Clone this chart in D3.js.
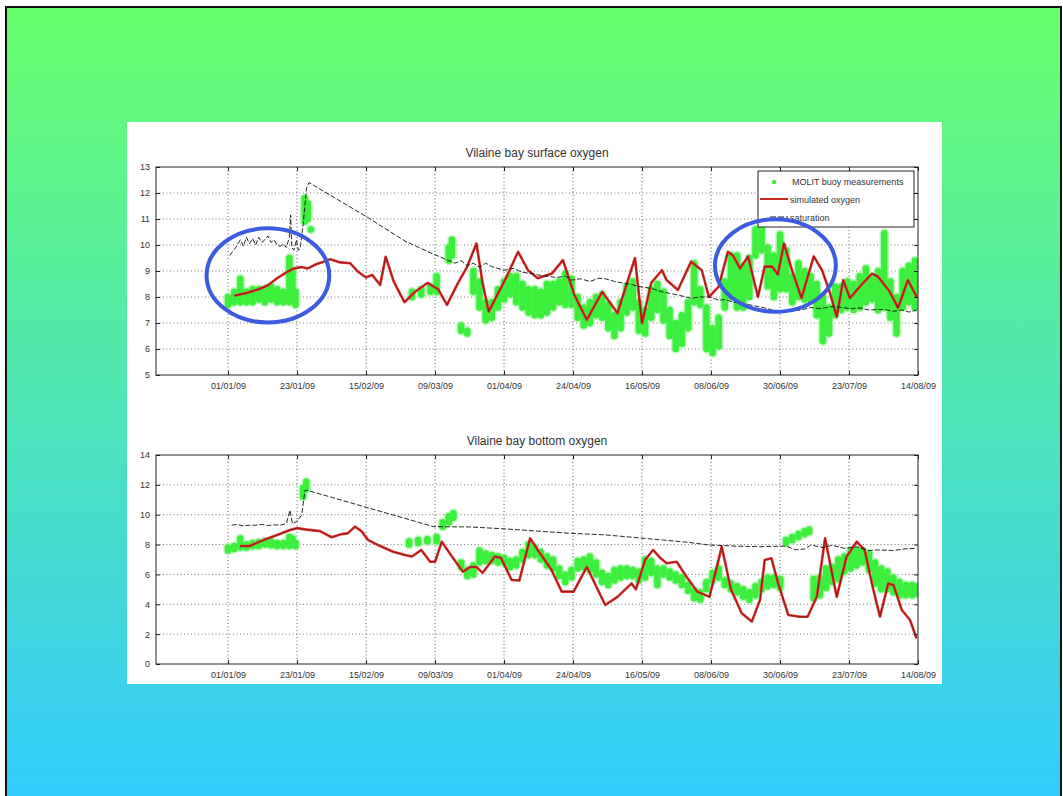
<!DOCTYPE html>
<html>
<head>
<meta charset="utf-8">
<script src="https://cdn.jsdelivr.net/npm/d3@7"></script>
<style>
  body { margin: 0; background: #fff; }
  text { font-family: "Liberation Sans", Arial, sans-serif; }
</style>
</head>
<body>
<div id="chart"></div>
<script>
// x values are days counted from 01/01/09
var tickDays = [0, 22.5, 45, 67.5, 90, 112.5, 135, 157.5, 180, 202.5, 225];
var tickLabels = ["01/01/09", "23/01/09", "15/02/09", "09/03/09", "01/04/09", "24/04/09",
                  "16/05/09", "08/06/09", "30/06/09", "23/07/09", "14/08/09"];
var legendLabels = ["MOLIT buoy measurements", "simulated oxygen", "saturation"];

// ---- surface ----
var redTopDays = [2, 6, 10, 13, 16, 19, 21.5, 24, 26, 28.9, 31, 33.3, 36.6, 39.8, 42.4, 45, 47, 49.6, 51.4, 54, 57.5,
  61, 65, 68.5, 71.4, 75, 78, 81, 83, 85, 87.7, 90.3, 94.6, 97.8, 101, 105.6, 109.2, 113, 117, 122, 127, 132.7, 135,
  138, 141.5, 143, 146.7, 151, 154.5, 156.8, 160, 163, 164.6, 167, 169.6, 172.8, 175, 177.4, 179.3, 181.3, 183.9, 187,
  191, 193.7, 196, 198.5, 200.6, 202.8, 206, 210, 212, 215.8, 218.5, 221.7, 224.6];
var redTopVals = [8.05, 8.15, 8.3, 8.45, 8.72, 8.95, 9.1, 9.15, 9.1, 9.27, 9.35, 9.45, 9.33, 9.3, 8.97, 8.75, 8.85, 8.46, 9.55, 8.6, 7.8,
  8.2, 8.54, 8.3, 7.7, 8.54, 9.17, 10.06, 8.54, 7.44, 8.06, 8.65, 9.74, 9.03, 8.72, 8.9, 9.42, 8.06, 7.12, 8.2, 7.38, 9.5, 7.0,
  8.54, 9.03, 8.65, 8.27, 9.36, 9.03, 8.0, 8.4, 9.74, 9.6, 9.1, 9.56, 8.0, 9.17, 9.17, 8.87, 10.06, 9.03, 7.96,
  9.56, 9.03, 8.27, 7.24, 8.65, 7.96, 8.4, 8.9, 8.78, 8.2, 7.58, 8.65, 8.0];

var satTopDays = [0.6, 1.5, 2.5, 3, 4, 5, 6, 7, 8, 9, 10, 11, 12, 13, 14, 15, 16, 17, 18, 19, 20, 20.4, 20.8, 21.5, 22.3,
  22.9, 23.5, 24.5, 25.6, 26.4, 45, 57.7, 66, 74, 76, 78, 80, 82, 84, 86, 88, 90, 93, 96, 99, 101, 104, 107, 110, 112,
  115, 118, 121, 123, 126, 128.5, 131, 134, 137, 139, 141.5, 144, 147, 151, 154, 157, 160, 162, 165, 168, 170, 173, 176,
  180, 183, 187, 190, 193, 197, 200, 203, 206, 209, 212, 215, 217, 220, 222, 224.6];
var satTopVals = [9.6, 9.75, 9.9, 10.0, 10.2, 9.95, 10.3, 10.05, 10.25, 10.0, 10.3, 10.1, 10.2, 10.35, 10.1, 10.2, 10.0, 9.95,
  10.05, 9.9, 10.3, 11.15, 9.9, 9.8, 10.2, 9.8, 9.85, 10.8, 12.2, 12.4, 11.1, 10.15, 9.7, 9.3, 9.4, 9.2, 9.3, 9.15, 9.3,
  9.17, 9.1, 9.03, 9.1, 8.95, 8.9, 8.85, 8.8, 8.75, 8.8, 8.65, 8.7, 8.6, 8.72, 8.7, 8.6, 8.54, 8.5, 8.4, 8.35, 8.3, 8.2,
  8.14, 8.07, 7.95, 8.0, 8.0, 7.88, 7.9, 7.8, 7.76, 7.7, 7.63, 7.55, 7.4, 7.45, 7.5, 7.6, 7.55, 7.63, 7.6, 7.55, 7.58,
  7.5, 7.52, 7.5, 7.45, 7.5, 7.42, 7.5];

var greenTopDays = [0, 2, 4, 6, 8, 10, 12, 14, 16, 18, 20, 21, 22, 25, 26, 27, 60, 63, 66, 68, 72, 73, 76, 78,
  80, 82, 84, 86, 88, 90, 92, 94, 96, 98, 100, 102, 104, 106, 108, 110, 112, 114, 116, 118, 120, 122, 124, 126, 128,
  130, 132, 134, 136, 138, 140, 142, 144, 146, 148, 150, 152, 154, 156, 158, 160, 162, 164, 166, 168, 170, 172, 174,
  176, 178, 180, 182, 184, 186, 188, 190, 192, 194, 196, 198, 200, 202, 204, 206, 208, 210, 212, 214, 216, 218, 220,
  222, 224];
var greenTopLo = [7.7, 7.8, 7.8, 7.8, 7.8, 7.9, 7.8, 7.9, 7.8, 7.8, 7.8, 7.9, 7.7, 10.9, 11.0, 10.6, 8.0, 8.1, 8.2, 8.2, 9.4, 9.6, 6.7, 6.6,
  8.2, 7.6, 7.1, 7.2, 7.6, 7.9, 8.1, 7.8, 7.6, 7.4, 7.3, 7.3, 7.4, 7.6, 7.8, 7.7, 7.7, 7.2, 6.9, 7.0, 7.3, 7.2, 6.8, 6.5, 6.8,
  7.4, 7.6, 6.7, 6.6, 7.2, 7.5, 7.1, 6.5, 6.0, 6.2, 6.8, 7.8, 7.7, 6.0, 5.85, 6.1, 7.6, 8.0, 7.6, 7.6, 8.0, 9.6, 9.8,
  8.4, 8.0, 8.3, 8.3, 7.8, 8.0, 7.9, 7.9, 7.3, 6.3, 6.6, 7.3, 7.5, 7.6, 7.5, 7.6, 7.8, 7.9, 7.5, 7.6, 7.2, 6.6, 7.6,
  7.8, 7.6];
var greenTopHi = [8.0, 8.2, 8.7, 8.2, 8.3, 8.3, 8.3, 8.4, 8.3, 8.2, 9.5, 9.0, 8.2, 11.8, 11.6, 10.6, 8.2, 8.3, 8.4, 8.8, 9.9, 10.2, 6.9, 6.7,
  9.0, 8.6, 7.8, 7.8, 8.3, 8.6, 8.8, 8.8, 8.5, 8.3, 8.3, 8.2, 8.5, 8.5, 8.6, 8.9, 8.7, 8.0, 7.6, 7.8, 8.0, 8.1, 7.7, 7.3, 7.8,
  8.4, 8.6, 7.8, 7.5, 8.3, 8.5, 8.2, 7.5, 7.0, 7.3, 7.8, 9.3, 8.3, 7.6, 6.8, 7.2, 8.6, 9.6, 9.6, 9.2, 9.5, 10.6, 10.7,
  9.9, 9.6, 10.4, 9.8, 8.8, 9.3, 9.0, 8.8, 8.5, 8.0, 7.6, 8.4, 8.4, 8.6, 8.5, 8.8, 9.1, 8.7, 9.0, 10.45, 8.6, 8.0, 9.0,
  9.2, 9.4];

// ---- bottom ----
var redBotDays = [3.9, 7, 11.5, 16, 20.2, 22.4, 25.7, 30, 33.8, 37, 39, 41.4, 43.5, 45.7, 49.6, 53.8, 57.7, 60, 63, 65.9,
  67.5, 69.7, 73, 76.6, 79, 81, 83, 87, 89, 92.5, 95, 98.5, 101, 105.5, 108.8, 112.7, 117, 123, 127, 131.6, 133, 136,
  138.6, 141, 143, 146.3, 149.5, 153, 157, 161, 164, 167.5, 170.8, 173.5, 175, 177.2, 179.4, 182.7, 186.5, 189, 192,
  194.7, 198.5, 201.7, 205, 207.6, 210.4, 212.6, 215.3, 217, 219.7, 222.4, 224.5];
var redBotVals = [7.9, 7.9, 8.3, 8.64, 8.98, 9.1, 9.0, 8.9, 8.49, 8.7, 8.75, 9.2, 8.9, 8.3, 7.9, 7.52, 7.3, 7.2, 7.64, 6.85,
  6.85, 8.19, 7.2, 6.18, 6.5, 6.5, 6.1, 7.2, 7.1, 5.63, 5.6, 8.42, 7.64, 6.3, 4.85, 4.85, 6.5, 3.95, 4.5, 5.4, 5.0, 6.97,
  7.64, 7.1, 6.75, 6.85, 5.85, 4.85, 4.5, 7.86, 5.0, 3.4, 2.84, 4.3, 6.97, 7.08, 5.4, 3.28, 3.17, 3.17, 4.5,
  8.42, 4.5, 7.19, 8.19, 7.64, 5.0, 3.17, 5.4, 5.3, 3.62, 2.95, 1.72];

var satBotDays = [1.2, 3, 5, 7, 9, 11, 13, 15, 17, 19, 20.2, 21, 22.4, 24, 25.1, 26.4, 45, 59.3, 67, 79, 90.3, 101, 112,
  123, 134, 142, 150, 157, 165, 173.5, 182, 185, 188, 190, 194, 197, 201, 205, 209, 212, 217, 221, 224.6];
var satBotVals = [9.3, 9.35, 9.25, 9.3, 9.3, 9.35, 9.28, 9.32, 9.3, 9.4, 10.3, 9.4, 9.55, 9.97, 11.65, 11.6, 10.5, 9.66, 9.2,
  9.18, 9.05, 8.9, 8.75, 8.65, 8.45, 8.3, 8.15, 7.97, 7.9, 7.86, 7.9, 7.65, 7.7, 7.97, 7.8, 7.95, 7.75, 7.85, 7.6, 7.64,
  7.6, 7.72, 7.75];

var greenBotDays = [0, 2, 4, 6, 8, 10, 12, 14, 16, 18, 20, 21, 22, 24.5, 25.5, 59, 62, 65, 68, 70, 72, 73.5, 76, 78, 80,
  82, 84, 86, 88, 90, 92, 94, 96, 98, 100, 102, 104, 106, 108, 110, 112, 114, 116, 118, 120, 122, 124, 126, 128, 130,
  132, 134, 136, 138, 140, 142, 144, 146, 148, 150, 152, 154, 156, 158, 160, 162, 164, 166, 168, 170, 172, 174, 176,
  178, 180, 182, 184, 186, 188, 189.5, 191, 193, 195, 197, 199, 201, 203, 205, 207, 209, 211, 213, 215, 217, 219, 221,
  223, 224.5];
var greenBotLo = [7.6, 7.7, 7.8, 7.8, 7.9, 7.9, 8.0, 7.95, 7.9, 7.9, 7.9, 8.0, 7.9, 11.2, 11.7, 8.0, 8.1, 8.2, 8.2, 9.2, 9.5,
  9.8, 6.5, 5.9, 6.0, 6.8, 6.9, 6.9, 6.8, 6.8, 6.5, 6.6, 7.0, 7.3, 7.3, 7.0, 6.6, 6.4, 5.9, 5.5, 5.8, 6.4, 6.5, 6.3, 6.0,
  5.5, 5.3, 5.6, 5.8, 5.9, 5.9, 5.6, 5.8, 6.1, 5.3, 6.0, 5.8, 5.6, 5.3, 4.9, 4.4, 4.3, 5.0, 5.6, 5.8, 5.3, 5.0, 4.8, 4.5,
  4.3, 4.6, 5.0, 5.2, 5.3, 5.1, 8.1, 8.3, 8.5, 8.7, 8.85, 4.4, 4.6, 5.1, 5.5, 5.7, 6.2, 6.4, 6.6, 6.8, 6.3, 5.4, 5.0, 5.0,
  4.8, 4.6, 4.6, 4.6, 4.7];
var greenBotHi = [7.8, 7.9, 8.4, 8.0, 8.1, 8.15, 8.2, 8.2, 8.1, 8.1, 8.5, 8.4, 8.1, 11.8, 12.2, 8.2, 8.3, 8.35, 8.5, 9.5, 9.9,
  10.1, 6.8, 6.3, 6.6, 7.6, 7.4, 7.3, 7.2, 7.1, 6.9, 7.0, 7.5, 8.0, 7.8, 7.5, 7.2, 7.0, 6.4, 6.0, 6.3, 6.9, 7.0, 7.2, 6.8,
  6.1, 5.9, 6.3, 6.4, 6.4, 6.3, 6.2, 7.0, 6.9, 6.4, 6.4, 6.2, 6.0, 5.8, 5.3, 4.9, 4.8, 5.5, 6.1, 6.4, 5.6, 5.4, 5.2, 5.0,
  4.8, 5.2, 5.5, 5.8, 5.8, 5.7, 8.3, 8.5, 8.7, 8.9, 9.0, 5.7, 5.8, 6.4, 6.5, 7.0, 7.2, 7.6, 7.6, 7.6, 7.4, 6.8, 6.4, 6.2,
  5.8, 5.5, 5.3, 5.3, 5.2];

// blue ellipses drawn on the surface panel: centre day, centre value, half width (days), half height
var circleDays = [13, 178.5];
var circleVals = [8.83, 9.21];
var circleRx = [20, 19.7];
var circleRy = [1.81, 1.78];

var W = 1063, H = 796;
var svg = d3.select("#chart").append("svg")
  .attr("width", W).attr("height", H);

var defs = svg.append("defs");
var grad = defs.append("linearGradient").attr("id", "bg")
  .attr("x1", 0).attr("y1", 0).attr("x2", 0).attr("y2", 1);
grad.append("stop").attr("offset", "0%").attr("stop-color", "#68ff6c");
grad.append("stop").attr("offset", "100%").attr("stop-color", "#33cbff");

// slide background
svg.append("rect").attr("x", 6).attr("y", 7).attr("width", 1055).attr("height", 800)
  .attr("fill", "url(#bg)").attr("stroke", "#111").attr("stroke-width", 2);
svg.append("rect").attr("x", 127).attr("y", 122).attr("width", 815).attr("height", 562)
  .attr("fill", "#fff");

var x = d3.scaleLinear().domain([-23.5, 225]).range([156, 918]);

function zip(a, b) { return a.map(function(d, i) { return [d, b[i]]; }); }

function drawPlot(cfg) {
  var y = d3.scaleLinear().domain(cfg.yDomain).range([cfg.bottom, cfg.top]);
  var g = svg.append("g");
  var id = "clip" + cfg.top;
  defs.append("clipPath").attr("id", id).append("rect")
    .attr("x", 156).attr("y", cfg.top).attr("width", 918 - 156).attr("height", cfg.bottom - cfg.top);

  // grid
  g.selectAll(".vg").data(tickDays.slice(0, -1)).enter().append("line")
    .attr("x1", function(d) { return x(d); }).attr("x2", function(d) { return x(d); })
    .attr("y1", cfg.top).attr("y2", cfg.bottom)
    .attr("stroke", "#333").attr("stroke-width", 0.8).attr("stroke-dasharray", "1,2.5");
  g.selectAll(".hg").data(cfg.yTicks.slice(1, -1)).enter().append("line")
    .attr("x1", 156).attr("x2", 918)
    .attr("y1", function(d) { return y(d); }).attr("y2", function(d) { return y(d); })
    .attr("stroke", "#555").attr("stroke-width", 0.8).attr("stroke-dasharray", "1,2.5");

  var data = g.append("g").attr("clip-path", "url(#" + id + ")");

  // measurements
  var idx = d3.range(cfg.gDays.length);
  [["#bdf7bd", 9.5], ["#3cef3c", 6.5]].forEach(function(s) {
    data.append("g").selectAll("line").data(idx).enter().append("line")
      .attr("x1", function(i) { return x(cfg.gDays[i]); })
      .attr("x2", function(i) { return x(cfg.gDays[i]); })
      .attr("y1", function(i) { return y(cfg.gLo[i]); })
      .attr("y2", function(i) { return y(cfg.gHi[i]); })
      .attr("stroke", s[0]).attr("stroke-width", s[1]).attr("stroke-linecap", "round");
  });

  var line = d3.line().x(function(d) { return x(d[0]); }).y(function(d) { return y(d[1]); });

  // simulated oxygen
  var red = zip(cfg.rDays, cfg.rVals);
  data.append("path").attr("d", line(red)).attr("fill", "none")
    .attr("stroke", "#e0302c").attr("stroke-width", 2.6).attr("stroke-linejoin", "round");
  data.append("path").attr("d", line(red)).attr("fill", "none")
    .attr("stroke", "#8e1a18").attr("stroke-width", 1).attr("stroke-linejoin", "round");

  // saturation
  data.append("path").attr("d", line(zip(cfg.sDays, cfg.sVals))).attr("fill", "none")
    .attr("stroke", "#111").attr("stroke-width", 0.9).attr("stroke-dasharray", "5,2");

  // box and ticks
  g.append("rect").attr("x", 156).attr("y", cfg.top).attr("width", 918 - 156)
    .attr("height", cfg.bottom - cfg.top).attr("fill", "none").attr("stroke", "#222").attr("stroke-width", 1);

  g.append("g").attr("transform", "translate(0," + cfg.bottom + ")")
    .call(d3.axisBottom(x).tickValues(tickDays).tickSize(-4).tickPadding(8)
      .tickFormat(function(d, i) { return tickLabels[i]; }))
    .call(function(a) { a.select(".domain").remove(); });
  g.append("g").attr("transform", "translate(0," + cfg.top + ")")
    .call(d3.axisTop(x).tickValues(tickDays).tickSize(-4).tickFormat(""))
    .call(function(a) { a.select(".domain").remove(); });
  g.append("g").attr("transform", "translate(156,0)")
    .call(d3.axisLeft(y).tickValues(cfg.yTicks).tickSize(-4).tickPadding(6).tickFormat(d3.format("d")))
    .call(function(a) { a.select(".domain").remove(); });
  g.append("g").attr("transform", "translate(918,0)")
    .call(d3.axisRight(y).tickValues(cfg.yTicks).tickSize(-4).tickFormat(""))
    .call(function(a) { a.select(".domain").remove(); });
  g.selectAll(".tick line").attr("stroke", "#222");
  g.selectAll(".tick text").attr("fill", "#333").style("font-size", "9px")
    .style("font-family", "'Liberation Sans', Arial, sans-serif");

  g.append("text").attr("x", 537).attr("y", cfg.top - 10).attr("text-anchor", "middle")
    .attr("fill", "#333").style("font-size", "12px").text(cfg.title);

  return y;
}

var yTop = drawPlot({
  top: 167, bottom: 375, yDomain: [5, 13], yTicks: d3.range(5, 14),
  title: "Vilaine bay surface oxygen",
  gDays: greenTopDays, gLo: greenTopLo, gHi: greenTopHi,
  rDays: redTopDays, rVals: redTopVals, sDays: satTopDays, sVals: satTopVals
});

drawPlot({
  top: 455, bottom: 664, yDomain: [0, 14], yTicks: d3.range(0, 15, 2),
  title: "Vilaine bay bottom oxygen",
  gDays: greenBotDays, gLo: greenBotLo, gHi: greenBotHi,
  rDays: redBotDays, rVals: redBotVals, sDays: satBotDays, sVals: satBotVals
});

// legend
var lg = svg.append("g").attr("transform", "translate(758,171)");
lg.append("rect").attr("width", 156).attr("height", 56).attr("fill", "#fff")
  .attr("stroke", "#222").attr("stroke-width", 1);
lg.append("circle").attr("cx", 16).attr("cy", 11).attr("r", 2.2).attr("fill", "#3cef3c");
lg.append("line").attr("x1", 2).attr("x2", 30).attr("y1", 28).attr("y2", 28)
  .attr("stroke", "#c62622").attr("stroke-width", 2);
lg.append("line").attr("x1", 12).attr("x2", 30).attr("y1", 46).attr("y2", 46)
  .attr("stroke", "#111").attr("stroke-width", 1.2).attr("stroke-dasharray", "6,2");
lg.selectAll(".lt").data(legendLabels).enter().append("text")
  .attr("x", function(d, i) { return i === 0 ? 34 : 32; })
  .attr("y", function(d, i) { return 14 + i * 18; })
  .attr("fill", "#333").style("font-size", "9px").text(function(d) { return d; });

// highlight ellipses
svg.append("g").selectAll("ellipse").data(d3.range(circleDays.length)).enter().append("ellipse")
  .attr("cx", function(i) { return x(circleDays[i]); })
  .attr("cy", function(i) { return yTop(circleVals[i]); })
  .attr("rx", function(i) { return x(circleRx[i]) - x(0); })
  .attr("ry", function(i) { return yTop(0) - yTop(circleRy[i]); })
  .attr("fill", "none").attr("stroke", "#3b5ce0").attr("stroke-width", 4);
</script>
</body>
</html>
